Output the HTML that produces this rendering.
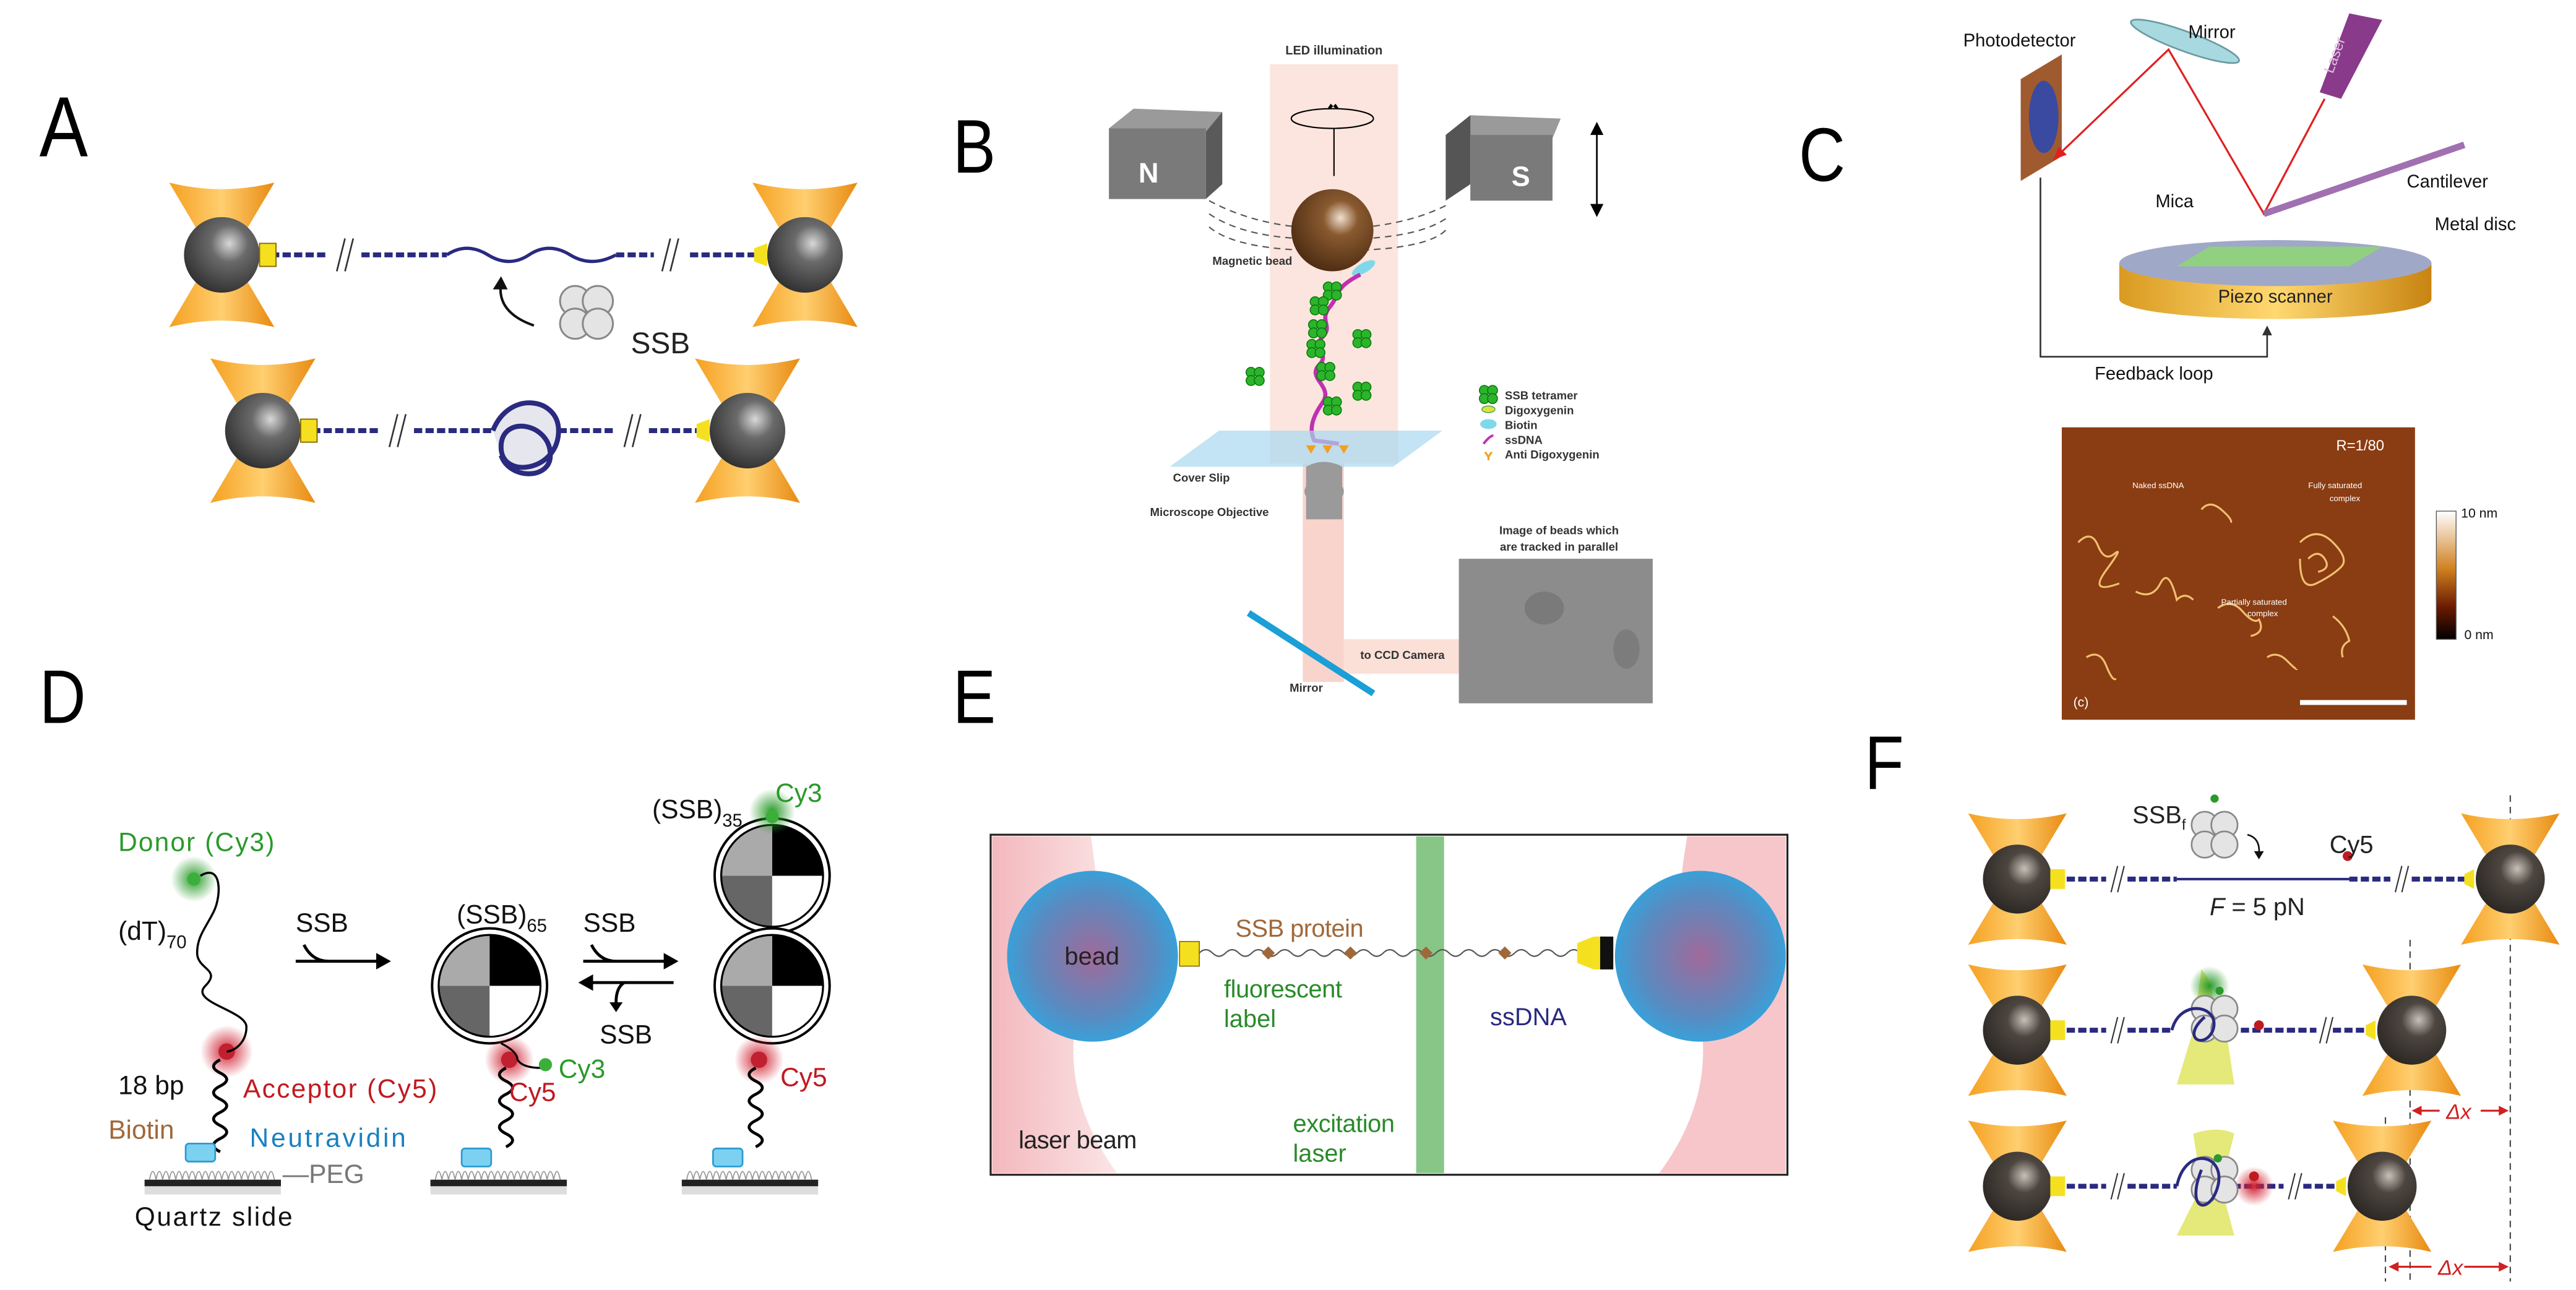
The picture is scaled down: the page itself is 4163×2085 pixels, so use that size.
<!DOCTYPE html>
<html><head><meta charset="utf-8"><style>
html,body{margin:0;padding:0;background:#fff}
svg{display:block}
text{font-family:"Liberation Sans",sans-serif}
</style></head><body>
<svg width="4163" height="2085" viewBox="0 0 1568 785" xmlns="http://www.w3.org/2000/svg">
<defs>
<radialGradient id="bead" cx="0.6" cy="0.35" r="0.7"><stop offset="0" stop-color="#d8d8d8"/><stop offset="0.35" stop-color="#6a6a6a"/><stop offset="1" stop-color="#2e2e2e"/></radialGradient>
<radialGradient id="beadF" cx="0.6" cy="0.35" r="0.7"><stop offset="0" stop-color="#c8c0b8"/><stop offset="0.35" stop-color="#4d4640"/><stop offset="1" stop-color="#2a2622"/></radialGradient>
<radialGradient id="mbead" cx="0.6" cy="0.35" r="0.7"><stop offset="0" stop-color="#f0e0d0"/><stop offset="0.3" stop-color="#8a5a30"/><stop offset="1" stop-color="#4a2a10"/></radialGradient>
<linearGradient id="cone" x1="0" y1="0" x2="1" y2="0"><stop offset="0" stop-color="#f5a020"/><stop offset="0.5" stop-color="#ffcf70"/><stop offset="1" stop-color="#e88a10"/></linearGradient>
<linearGradient id="piezo" x1="0" y1="0" x2="1" y2="0"><stop offset="0" stop-color="#d99a20"/><stop offset="0.5" stop-color="#ffd870"/><stop offset="1" stop-color="#c88410"/></linearGradient>
<linearGradient id="cbar" x1="0" y1="0" x2="0" y2="1"><stop offset="0" stop-color="#fff"/><stop offset="0.45" stop-color="#d08020"/><stop offset="0.75" stop-color="#6a1a00"/><stop offset="1" stop-color="#000"/></linearGradient>
<radialGradient id="ebead" cx="0.5" cy="0.5" r="0.5"><stop offset="0" stop-color="#a06a9a"/><stop offset="0.7" stop-color="#5a8ac0"/><stop offset="1" stop-color="#3aa0d8"/></radialGradient>
<radialGradient id="gglow"><stop offset="0" stop-color="#2a9a2a"/><stop offset="1" stop-color="#2a9a2a" stop-opacity="0"/></radialGradient>
<radialGradient id="rglow"><stop offset="0" stop-color="#d02030"/><stop offset="1" stop-color="#d02030" stop-opacity="0"/></radialGradient>
<linearGradient id="pinkL" x1="0" y1="0" x2="1" y2="0"><stop offset="0" stop-color="#f3b8bd"/><stop offset="1" stop-color="#fbe5e6"/></linearGradient>
<g id="trapA"><path d="M-32,-44 Q0,-36 32,-44 L6,0 L32,44 Q0,36 -32,44 L-6,0 Z" fill="url(#cone)"/><circle r="23" fill="url(#bead)"/></g>
<g id="trapF"><path d="M-30,-40 Q0,-33 30,-40 L6,0 L30,40 Q0,33 -30,40 L-6,0 Z" fill="url(#cone)"/><circle r="21" fill="url(#beadF)"/></g>
<g id="ssb4" fill="#e4e4e4" stroke="#888" stroke-width="1"><circle cx="-6" cy="-6" r="8"/><circle cx="6" cy="-6" r="8"/><circle cx="-6" cy="6" r="8"/><circle cx="6" cy="6" r="8"/></g>
<g id="gssb" fill="#2cb52c" stroke="#0a7a0a" stroke-width="0.6"><circle cx="-2.5" cy="-2.5" r="3"/><circle cx="2.5" cy="-2.5" r="3"/><circle cx="-2.5" cy="2.5" r="3"/><circle cx="2.5" cy="2.5" r="3"/></g>
<g id="quad"><circle r="35" fill="#fff" stroke="#000" stroke-width="1.5"/><path d="M0,0 L0,-31 A31,31 0 0 1 31,0 Z" fill="#000"/><path d="M0,0 L-31,0 A31,31 0 0 1 0,-31 Z" fill="#aaa"/><path d="M0,0 L0,31 A31,31 0 0 1 -31,0 Z" fill="#666"/><circle r="31" fill="none" stroke="#000" stroke-width="1.2"/></g>
<g id="slide"><rect x="0" y="0" width="83" height="4" fill="#222"/><path d="M3,0 q2,-10 4,0 q2,-10 4,0 q2,-10 4,0 q2,-10 4,0 q2,-10 4,0 q2,-10 4,0 q2,-10 4,0 q2,-10 4,0 q2,-10 4,0 q2,-10 4,0 q2,-10 4,0 q2,-10 4,0 q2,-10 4,0 q2,-10 4,0 q2,-10 4,0 q2,-10 4,0 q2,-10 4,0 q2,-10 4,0 q2,-10 4,0" fill="none" stroke="#999" stroke-width="0.7"/><rect x="0" y="4" width="83" height="5" fill="#bbb" opacity="0.5"/></g>
<g id="navi"><rect x="-9" y="-9" width="18" height="11" rx="2" fill="#7cd0f0" stroke="#2a9ad0"/></g>
</defs>

<!-- ===== Panel A ===== -->
<text x="24" y="95" font-size="52" transform="translate(24 95) scale(0.85 1) translate(-24 -95)">A</text>
<g stroke="#2a2a80" stroke-width="3" fill="none" stroke-dasharray="5 2">
<line x1="165" y1="155" x2="200" y2="155"/><line x1="220" y1="155" x2="272" y2="155"/><line x1="375" y1="155" x2="398" y2="155"/><line x1="420" y1="155" x2="460" y2="155"/>
<line x1="190" y1="262" x2="232" y2="262"/><line x1="252" y1="262" x2="300" y2="262"/><line x1="340" y1="262" x2="375" y2="262"/><line x1="395" y1="262" x2="425" y2="262"/>
</g>
<path d="M272,155 q12,-8 25,0 t25,0 t25,0 t28,0" stroke="#2a2a80" stroke-width="2" fill="none"/>
<g stroke="#333" stroke-width="1"><line x1="205" y1="165" x2="210" y2="145"/><line x1="210" y1="165" x2="215" y2="145"/><line x1="403" y1="165" x2="408" y2="145"/><line x1="408" y1="165" x2="413" y2="145"/>
<line x1="237" y1="272" x2="242" y2="252"/><line x1="242" y1="272" x2="247" y2="252"/><line x1="380" y1="272" x2="385" y2="252"/><line x1="385" y1="272" x2="390" y2="252"/></g>
<path d="M300,262 c10,-25 40,-20 40,0 c0,25 -35,30 -35,10 c0,-20 30,-15 30,5 c0,15 -25,15 -30,0" stroke="#2a2a80" stroke-width="3" fill="#e6e6ee"/>
<use href="#trapA" x="135" y="155"/><use href="#trapA" x="490" y="155"/>
<use href="#trapA" x="160" y="262"/><use href="#trapA" x="455" y="262"/>
<rect x="158" y="148" width="10" height="14" fill="#f5e020" stroke="#886600" stroke-width="0.7"/>
<path d="M467,148 l-8,3 v8 l8,3 z" fill="#f5e020"/>
<rect x="183" y="255" width="10" height="14" fill="#f5e020" stroke="#886600" stroke-width="0.7"/>
<path d="M432,255 l-8,3 v8 l8,3 z" fill="#f5e020"/>
<g transform="translate(357,190) scale(1.15)"><use href="#ssb4"/></g>
<text x="384" y="215" font-size="18" fill="#222">SSB</text>
<path d="M325,198 Q302,190 305,172" stroke="#111" stroke-width="1.5" fill="none"/><path d="M300,176 l5,-8 l4,8 z" fill="#111"/>

<!-- ===== Panel B ===== -->
<text x="580" y="105" font-size="46" transform="translate(580 105) scale(0.85 1) translate(-580 -105)">B</text>
<rect x="773" y="39" width="78" height="243" fill="#fbe0d8" opacity="0.85"/>
<rect x="793" y="282" width="25" height="133" fill="#f8d4cc"/>
<rect x="818" y="389" width="72" height="21" fill="#fbe0d8"/>
<text x="812" y="33" font-size="7.5" font-weight="bold" text-anchor="middle" fill="#333">LED illumination</text>
<polygon points="675,78 690,66 744,68 734,80" fill="#9a9a9a"/><polygon points="734,80 744,68 744,112 734,121" fill="#5a5a5a"/><rect x="675" y="78" width="59" height="43" fill="#7a7a7a"/>
<text x="693" y="111" font-size="17" font-weight="bold" fill="#fff">N</text>
<polygon points="880,82 895,70 950,72 945,84" fill="#9a9a9a"/><polygon points="880,82 895,70 895,112 880,122" fill="#555"/><rect x="895" y="82" width="50" height="40" fill="#7a7a7a"/>
<text x="920" y="113" font-size="17" font-weight="bold" fill="#fff">S</text>
<line x1="972" y1="78" x2="972" y2="128" stroke="#000" stroke-width="1"/>
<path d="M968,82 l4,-8 l4,8z M968,124 l4,8 l4,-8z" fill="#000"/>
<g stroke="#555" stroke-dasharray="4 3" fill="none" stroke-width="0.8">
<path d="M736,122 Q760,135 790,138"/><path d="M736,130 Q755,143 790,145"/><path d="M736,138 Q750,150 790,152"/>
<path d="M880,125 Q860,135 832,138"/><path d="M880,133 Q865,143 832,145"/><path d="M880,140 Q870,150 832,152"/></g>
<ellipse cx="811" cy="72" rx="25" ry="6" fill="none" stroke="#000" stroke-width="0.8"/>
<path d="M808,66 l5,0 l-3,-3z M815,66 l-5,0 l3,-3z" fill="#000"/>
<line x1="812" y1="78" x2="812" y2="107" stroke="#000" stroke-width="0.8"/>
<circle cx="811" cy="140" r="25" fill="url(#mbead)"/>
<text x="738" y="161" font-size="7" font-weight="bold" fill="#333">Magnetic bead</text>
<ellipse cx="830" cy="163" rx="8" ry="3" fill="#7fd8ea" transform="rotate(-30 830 163)"/>
<path d="M828,167 C812,175 815,180 810,186 C802,195 812,198 805,205 C798,212 810,215 803,222 C795,230 812,235 805,245 C798,255 797,262 800,268 L815,270" stroke="#c030b0" stroke-width="2.5" fill="none"/>
<use href="#gssb" x="811" y="177"/><use href="#gssb" x="803" y="186"/><use href="#gssb" x="802" y="200"/><use href="#gssb" x="801" y="212"/><use href="#gssb" x="807" y="226"/><use href="#gssb" x="811" y="247"/><use href="#gssb" x="829" y="206"/><use href="#gssb" x="829" y="238"/><use href="#gssb" x="764" y="229"/>
<polygon points="712,284 742,262 878,262 848,284" fill="#a8d8f0" opacity="0.7"/>
<path d="M795,271 l3,5 l3,-5z M805,271 l3,5 l3,-5z M815,271 l3,5 l3,-5z" fill="#f0a020"/>
<text x="714" y="293" font-size="7" font-weight="bold" fill="#333">Cover Slip</text>
<path d="M795,284 q11,-6 22,0 v12 q2,3 0,6 v14 h-22 v-14 q-2,-3 0,-6z" fill="#9a9a9a"/>
<text x="700" y="314" font-size="7" font-weight="bold" fill="#333">Microscope Objective</text>
<g transform="translate(900,240)"><use href="#gssb" x="6" y="0"/><ellipse cx="6" cy="9" rx="4" ry="2" fill="#e0e040" stroke="#40a040" stroke-width="0.5"/><ellipse cx="6" cy="18" rx="5" ry="3" fill="#7fd8ea"/><path d="M3,30 q4,-5 6,-5" stroke="#c030b0" stroke-width="1.5" fill="none"/><path d="M4,35 l2,3 l2,-3 M6,38 v2" stroke="#f0a020" stroke-width="1.2" fill="none"/>
<g font-size="7" font-weight="bold" fill="#333"><text x="16" y="3">SSB tetramer</text><text x="16" y="12">Digoxygenin</text><text x="16" y="21">Biotin</text><text x="16" y="30">ssDNA</text><text x="16" y="39">Anti Digoxygenin</text></g></g>
<text x="949" y="325" font-size="7" font-weight="bold" text-anchor="middle" fill="#333">Image of beads which</text>
<text x="949" y="335" font-size="7" font-weight="bold" text-anchor="middle" fill="#333">are tracked in parallel</text>
<rect x="888" y="340" width="118" height="88" fill="#8c8c8c"/>
<ellipse cx="940" cy="370" rx="12" ry="10" fill="#7a7a7a"/><ellipse cx="990" cy="395" rx="8" ry="12" fill="#7c7c7c"/>
<line x1="760" y1="373" x2="836" y2="422" stroke="#1a9fd6" stroke-width="4"/>
<text x="828" y="401" font-size="7" font-weight="bold" fill="#333">to CCD Camera</text>
<text x="785" y="421" font-size="7" font-weight="bold" fill="#333">Mirror</text>

<!-- ===== Panel C ===== -->
<text x="1095" y="110" font-size="46" transform="translate(1095 110) scale(0.85 1) translate(-1095 -110)">C</text>
<polygon points="1230,48 1255,33 1255,95 1230,110" fill="#a05a30"/>
<ellipse cx="1244" cy="71" rx="9" ry="22" fill="#3a4aa0"/>
<text x="1195" y="28" font-size="11" fill="#111">Photodetector</text>
<ellipse cx="1330" cy="25" rx="35" ry="6" fill="#a8d8e0" stroke="#6a9aa0" transform="rotate(20 1330 25)"/>
<text x="1332" y="23" font-size="11" fill="#111">Mirror</text>
<polygon points="1430,8 1450,12 1425,60 1412,56" fill="#8a3a8a"/>
<text x="1420" y="45" font-size="9" fill="#e0c0e0" transform="rotate(-70 1420 45)">Laser</text>
<g stroke="#e02020" stroke-width="1.2" fill="none"><polyline points="1415,60 1378,130 1320,30 1250,97"/></g>
<path d="M1250,97 l3,-8 l5,5z" fill="#e02020"/>
<path d="M1378,130 L1500,88" stroke="#a070b0" stroke-width="4"/>
<text x="1465" y="114" font-size="11" fill="#111">Cantilever</text>
<path d="M1290,160 v22 a95,12 0 0 0 190,0 v-22 z" fill="url(#piezo)"/>
<ellipse cx="1385" cy="160" rx="95" ry="14" fill="#a0a8c8"/>
<polygon points="1325,162 1345,150 1450,150 1430,162" fill="#90d080"/>
<text x="1312" y="126" font-size="11" fill="#111">Mica</text>
<text x="1482" y="140" font-size="11" fill="#111">Metal disc</text>
<text x="1385" y="184" font-size="11" fill="#222" text-anchor="middle">Piezo scanner</text>
<polyline points="1242,108 1242,217 1380,217 1380,202" stroke="#333" fill="none" stroke-width="1"/>
<path d="M1377,204 l3,-6 l3,6z" fill="#333"/>
<text x="1275" y="231" font-size="11" fill="#111">Feedback loop</text>
<rect x="1255" y="260" width="215" height="178" fill="#8a3c12"/>
<g fill="none" stroke="#f0c070" stroke-width="1.2"><path d="M1265,330 q8,-8 12,2 t10,5 t-5,10 t8,8"/><path d="M1400,330 q10,-10 20,0 t5,15 t-15,10 t-10,-15 m5,0 q6,-6 10,0 t-4,8"/><path d="M1300,360 q10,5 15,-5 t10,10 q5,-5 10,0"/><path d="M1350,370 q8,-6 15,2 t10,5 q4,8 -5,10"/><path d="M1420,375 q8,6 10,15 q-6,3 -4,10"/><path d="M1270,400 q8,-5 12,5 t6,8"/><path d="M1340,310 q5,-6 12,0 t6,8"/><path d="M1380,400 q6,-4 12,2 t6,5"/></g>
<text x="1422" y="274" font-size="9" fill="#fff">R=1/80</text>
<g font-size="5" fill="#fff"><text x="1298" y="297">Naked ssDNA</text><text x="1405" y="297">Fully saturated</text><text x="1418" y="305">complex</text><text x="1352" y="368">Partially saturated</text><text x="1368" y="375">complex</text></g>
<text x="1262" y="430" font-size="8" fill="#fff">(c)</text>
<rect x="1400" y="426" width="65" height="3" fill="#fff"/>
<rect x="1483" y="311" width="12" height="78" fill="url(#cbar)" stroke="#555" stroke-width="0.5"/>
<text x="1498" y="315" font-size="8" fill="#111">10 nm</text><text x="1500" y="389" font-size="8" fill="#111">0 nm</text>

<!-- ===== Panel D ===== -->
<text x="24" y="440" font-size="46" transform="translate(24 440) scale(0.85 1) translate(-24 -440)">D</text>
<circle cx="118" cy="535" r="14" fill="url(#gglow)"/><circle cx="118" cy="535" r="4" fill="#3ab03a"/>
<circle cx="138" cy="640" r="16" fill="url(#rglow)"/><circle cx="138" cy="640" r="5" fill="#c02030"/>
<path d="M122,533 C135,525 135,545 130,555 C125,565 120,570 120,580 C120,590 135,590 125,600 C115,610 150,615 150,625 C150,635 142,640 138,640" stroke="#000" stroke-width="1.3" fill="none"/>
<path d="M134,645 q-8,4 0,8 t0,8 t0,8 t0,8 t0,8 t0,8 t0,8" stroke="#000" stroke-width="1.8" fill="none"/>
<use href="#navi" x="122" y="705"/><use href="#slide" x="88" y="718"/>
<path d="M180,585 h52 M185,575 q5,10 15,10" stroke="#000" stroke-width="1.8" fill="none"/><path d="M238,585 l-9,-5 v10z" fill="#000"/>
<path d="M355,585 h52 M360,575 q5,10 15,10" stroke="#000" stroke-width="1.8" fill="none"/><path d="M413,585 l-9,-5 v10z" fill="#000"/>
<path d="M410,598 h-52 M380,598 q-5,3 -5,12" stroke="#000" stroke-width="1.8" fill="none"/><path d="M352,598 l9,-5 v10z M375,616 l-4,-6 h8z" fill="#000"/>
<use href="#quad" x="298" y="600"/>
<circle cx="310" cy="645" r="15" fill="url(#rglow)"/><circle cx="310" cy="645" r="5" fill="#c02030"/>
<path d="M305,635 q10,5 10,10 q3,5 15,5" stroke="#000" stroke-width="1.2" fill="none"/><circle cx="332" cy="648" r="4" fill="#3ab03a"/>
<path d="M308,650 q-8,4 0,8 t0,8 t0,8 t0,8 t0,8 t0,8" stroke="#000" stroke-width="1.8" fill="none"/>
<use href="#navi" x="290" y="708"/><use href="#slide" x="262" y="718"/>
<use href="#quad" x="470" y="533"/><use href="#quad" x="470" y="600"/>
<circle cx="470" cy="494" r="14" fill="url(#gglow)"/><circle cx="470" cy="497" r="4" fill="#3ab03a"/>
<circle cx="462" cy="645" r="15" fill="url(#rglow)"/><circle cx="462" cy="645" r="5" fill="#c02030"/>
<path d="M460,650 q-8,4 0,8 t0,8 t0,8 t0,8 t0,8 t0,8" stroke="#000" stroke-width="1.8" fill="none"/>
<use href="#navi" x="443" y="708"/><use href="#slide" x="415" y="718"/>
<g font-size="16">
<text x="72" y="518" fill="#2a9a2a" textLength="95">Donor (Cy3)</text>
<text x="72" y="572" fill="#111">(dT)<tspan font-size="11" dy="5">70</tspan></text>
<text x="72" y="666" fill="#111">18 bp</text>
<text x="148" y="668" fill="#c01a20" textLength="118">Acceptor (Cy5)</text>
<text x="66" y="693" fill="#a0683a">Biotin</text>
<text x="152" y="698" fill="#1a80c0" textLength="95">Neutravidin</text>
<text x="172" y="720" fill="#777">—PEG</text>
<text x="82" y="746" fill="#111" textLength="96">Quartz slide</text>
<text x="180" y="567" fill="#111">SSB</text>
<text x="278" y="562" fill="#111">(SSB)<tspan font-size="11" dy="5">65</tspan></text>
<text x="355" y="567" fill="#111">SSB</text>
<text x="365" y="635" fill="#111">SSB</text>
<text x="397" y="498" fill="#111">(SSB)<tspan font-size="11" dy="5">35</tspan></text>
<text x="472" y="488" fill="#2a9a2a">Cy3</text>
<text x="340" y="656" fill="#2a9a2a">Cy3</text>
<text x="310" y="670" fill="#c01a20">Cy5</text>
<text x="475" y="661" fill="#c01a20">Cy5</text>
</g>

<!-- ===== Panel E ===== -->
<text x="580" y="440" font-size="46" transform="translate(580 440) scale(0.85 1) translate(-580 -440)">E</text>
<rect x="603" y="508" width="485" height="207" fill="#fff" stroke="#222" stroke-width="1.2"/>
<path d="M604,509 h60 Q675,580 660,600 Q640,660 680,714 h-76 z" fill="url(#pinkL)"/>
<path d="M1087,509 h-60 Q1015,580 1030,600 Q1050,660 1010,714 h77 z" fill="#f7c6ca"/>
<rect x="862" y="509" width="17" height="205" fill="#6ab86a" opacity="0.8"/>
<circle cx="665" cy="582" r="52" fill="url(#ebead)"/>
<circle cx="1035" cy="582" r="52" fill="url(#ebead)"/>
<path d="M730,580 q4,-4 8,0 t8,0 t8,0 t8,0 t8,0 t8,0 t8,0 t8,0 t8,0 t8,0 t8,0 t8,0 t8,0 t8,0 t8,0 t8,0 t8,0 t8,0 t8,0 t8,0 t8,0 t8,0 t8,0 t8,0 t8,0 t8,0 t8,0 t8,0 t8,0" stroke="#555" stroke-width="0.8" fill="none"/>
<g fill="#a0683a"><path d="M772,576 l4,4 l-4,4 l-4,-4z"/><path d="M822,576 l4,4 l-4,4 l-4,-4z"/><path d="M868,576 l4,4 l-4,4 l-4,-4z"/><path d="M916,576 l4,4 l-4,4 l-4,-4z"/></g>
<rect x="718" y="573" width="12" height="15" fill="#f5e020" stroke="#886600" stroke-width="0.6"/>
<path d="M960,574 l10,-4 h8 v20 h-8 l-10,-4z" fill="#f5e020"/><rect x="974" y="570" width="8" height="20" fill="#111"/>
<g font-size="15">
<text x="648" y="587" fill="#222">bead</text>
<text x="752" y="570" fill="#a0683a" textLength="78">SSB protein</text>
<text x="745" y="607" fill="#2a8a2a" textLength="72">fluorescent</text>
<text x="745" y="625" fill="#2a8a2a">label</text>
<text x="907" y="624" fill="#2a2a80">ssDNA</text>
<text x="620" y="699" fill="#222" textLength="72">laser beam</text>
<text x="787" y="689" fill="#2a8a2a" textLength="62">excitation</text>
<text x="787" y="707" fill="#2a8a2a">laser</text>
</g>

<!-- ===== Panel F ===== -->
<text x="1135" y="480" font-size="46" transform="translate(1135 480) scale(0.85 1) translate(-1135 -480)">F</text>
<g stroke="#444" stroke-dasharray="4 3" stroke-width="0.8"><line x1="1528" y1="484" x2="1528" y2="780"/><line x1="1467" y1="572" x2="1467" y2="780"/><line x1="1452" y1="680" x2="1452" y2="780"/></g>
<g stroke="#2a2a80" stroke-width="3" fill="none" stroke-dasharray="5 2">
<line x1="1258" y1="535" x2="1282" y2="535"/><line x1="1295" y1="535" x2="1325" y2="535"/><line x1="1430" y1="535" x2="1455" y2="535"/><line x1="1468" y1="535" x2="1500" y2="535"/>
<line x1="1258" y1="627" x2="1282" y2="627"/><line x1="1295" y1="627" x2="1322" y2="627"/><line x1="1350" y1="627" x2="1410" y2="627"/><line x1="1420" y1="627" x2="1440" y2="627"/>
<line x1="1258" y1="722" x2="1282" y2="722"/><line x1="1295" y1="722" x2="1325" y2="722"/><line x1="1352" y1="722" x2="1390" y2="722"/><line x1="1402" y1="722" x2="1422" y2="722"/>
</g>
<line x1="1325" y1="535" x2="1430" y2="535" stroke="#2a2a80" stroke-width="1.5"/>
<g stroke="#333" stroke-width="0.8"><line x1="1285" y1="543" x2="1289" y2="527"/><line x1="1289" y1="543" x2="1293" y2="527"/><line x1="1458" y1="543" x2="1462" y2="527"/><line x1="1462" y1="543" x2="1466" y2="527"/>
<line x1="1285" y1="635" x2="1289" y2="619"/><line x1="1289" y1="635" x2="1293" y2="619"/><line x1="1412" y1="635" x2="1416" y2="619"/><line x1="1416" y1="635" x2="1420" y2="619"/>
<line x1="1285" y1="730" x2="1289" y2="714"/><line x1="1289" y1="730" x2="1293" y2="714"/><line x1="1393" y1="730" x2="1397" y2="714"/><line x1="1397" y1="730" x2="1401" y2="714"/></g>
<path d="M1340,590 Q1350,600 1345,620 L1355,627 L1360,660 L1325,660 L1335,627 Z" fill="#d8e040" opacity="0.7"/>
<path d="M1335,690 Q1350,685 1360,690 L1352,722 L1360,752 L1325,752 L1340,722 Z" fill="#d8e040" opacity="0.7"/>
<circle cx="1345" cy="600" r="12" fill="url(#gglow)"/>
<circle cx="1372" cy="722" r="12" fill="url(#rglow)"/>
<use href="#ssb4" x="1348" y="620"/><use href="#ssb4" x="1348" y="718"/>
<path d="M1322,627 c5,-20 30,-15 25,0 c-5,12 -20,5 -5,-8" stroke="#2a2a80" stroke-width="1.8" fill="none"/>
<path d="M1325,722 c5,-25 30,-20 25,0 c-5,18 -20,15 -10,-10" stroke="#2a2a80" stroke-width="1.8" fill="none"/>
<use href="#trapF" x="1228" y="535"/><use href="#trapF" x="1528" y="535"/>
<use href="#trapF" x="1228" y="627"/><use href="#trapF" x="1468" y="627"/>
<use href="#trapF" x="1228" y="722"/><use href="#trapF" x="1450" y="722"/>
<g fill="#f5e020"><rect x="1248" y="529" width="9" height="12"/><rect x="1248" y="621" width="9" height="12"/><rect x="1248" y="716" width="9" height="12"/>
<path d="M1506,529 l-6,3 v6 l6,3z"/><path d="M1446,621 l-6,3 v6 l6,3z"/><path d="M1428,716 l-6,3 v6 l6,3z"/></g>
<use href="#ssb4" x="1348" y="508"/>
<circle cx="1348" cy="486" r="2.5" fill="#2a9a2a"/><circle cx="1351" cy="603" r="2.5" fill="#2a9a2a"/><circle cx="1350" cy="705" r="2.5" fill="#2a9a2a"/>
<circle cx="1429" cy="521" r="3" fill="#c01a20"/><circle cx="1375" cy="624" r="3" fill="#c01a20"/><circle cx="1372" cy="716" r="3" fill="#c01a20"/>
<path d="M1368,508 q8,2 7,12" stroke="#111" fill="none" stroke-width="1"/><path d="M1372,518 l3,5 l3,-5z" fill="#111"/>
<g fill="#222"><text x="1298" y="501" font-size="15">SSB<tspan font-size="9" dy="4">f</tspan></text>
<text x="1418" y="519" font-size="15">Cy5</text>
<text x="1345" y="557" font-size="15"><tspan font-style="italic">F</tspan> = 5 pN</text></g>
<g stroke="#d02020" stroke-width="1.2"><line x1="1470" y1="676" x2="1485" y2="676"/><line x1="1510" y1="676" x2="1525" y2="676"/><line x1="1455" y1="771" x2="1480" y2="771"/><line x1="1500" y1="771" x2="1525" y2="771"/></g>
<g fill="#d02020"><path d="M1468,676 l6,-3 v6z M1527,676 l-6,-3 v6z M1454,771 l6,-3 v6z M1527,771 l-6,-3 v6z"/>
<text x="1489" y="681" font-size="13" font-style="italic">Δx</text><text x="1484" y="776" font-size="13" font-style="italic">Δx</text></g>
</svg>
</body></html>
